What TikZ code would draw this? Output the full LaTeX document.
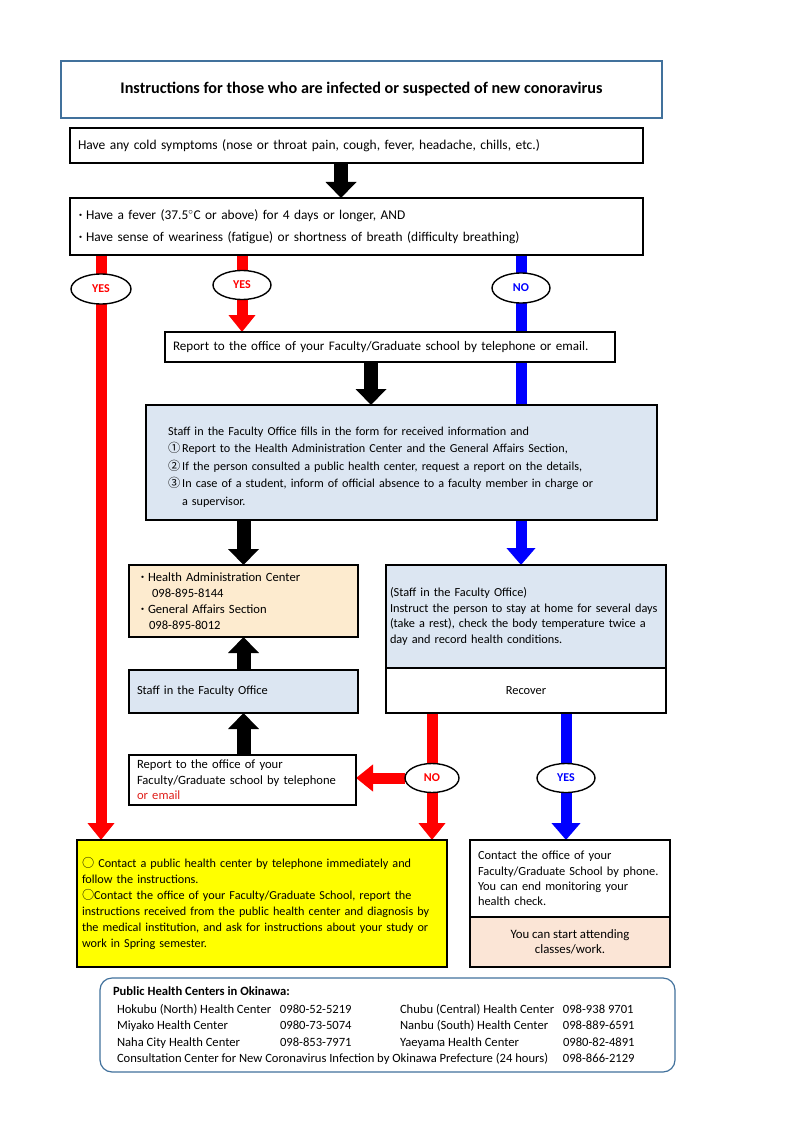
\documentclass[tikz,border=0pt]{standalone}
\usepackage{fontspec}
\setmainfont{Carlito}
\newfontfamily\cjk{Noto Sans CJK JP}
\usepackage{array}
\usetikzlibrary{arrows.meta, shapes.geometric, backgrounds}
\definecolor{frameBlue}{HTML}{41719C}
\definecolor{paleBlue}{HTML}{DCE6F2}
\definecolor{paleOrange}{HTML}{FDEBCF}
\definecolor{palePink}{HTML}{FBE5D6}
\definecolor{flowRed}{HTML}{FF0000}
\definecolor{flowBlue}{HTML}{0000FF}
\definecolor{noteRed}{HTML}{E0201B}
\definecolor{markYellow}{HTML}{FFFF00}
\newcommand{\bul}{{\cjk ・}}
\newcommand{\sym}[1]{{\cjk #1}}

\begin{document}
\begin{tikzpicture}[x=1pt, y=-1pt,
  every node/.style={inner sep=0pt, outer sep=0pt},
  box/.style={draw, line width=1.2pt, anchor=north west, align=left, inner xsep=8pt,
              fill=white, font=\fontsize{13}{16}\selectfont},
  midbox/.style={box, align=center},
  oval/.style={ellipse, draw, line width=1.4pt, fill=white, minimum width=58pt,
               minimum height=29pt, font=\fontsize{12}{14}\selectfont\bfseries},
  blk/.style={line width=14pt, -{Triangle[width=30pt, length=16pt]}},
  redarr/.style={flowRed, line width=11pt, -{Triangle[width=26pt, length=17pt]}},
  bluearr/.style={flowBlue, line width=11pt, -{Triangle[width=28pt, length=17pt]}},
]
\useasboundingbox (0,0) rectangle (800,1131);

\node[box, align=center, draw=frameBlue, minimum width=601pt, minimum height=57pt,
      font=\fontsize{16.2}{18}\selectfont\bfseries] (title) at (61,61)
  {Instructions for those who are infected or suspected of new conoravirus};

\node[box, minimum width=573pt, minimum height=35pt, text width=557pt,
      font=\fontsize{13.5}{16}\selectfont] (cold) at (70,128)
  {Have any cold symptoms (nose or throat pain, cough, fever, headache, chills, etc.)};
\node[box, minimum width=573pt, minimum height=57pt, inner xsep=5pt, text width=563pt,
      font=\fontsize{13.4}{22}\selectfont] (fever) at (70,198)
  {{\fontsize{11}{22}\selectfont\bul}Have a fever (37.5$^{\circ}$C or above) for 4 days or longer, AND\\
   {\fontsize{11}{22}\selectfont\bul}Have sense of weariness (fatigue) or shortness of breath (difficulty breathing)};

\node[box, minimum width=450pt, minimum height=30pt, text width=434pt,
      font=\fontsize{13.1}{16}\selectfont] (report) at (165,332)
  {Report to the office of your Faculty/Graduate school by telephone or email.};

\node[box, fill=paleBlue, minimum width=511pt, minimum height=115pt, inner xsep=22pt,
      text width=467pt, font=\fontsize{12.2}{17.5}\selectfont] (staff) at (146,405)
  {\rule{0pt}{17pt}Staff in the Faculty Office fills in the form for received information and\\
   \sym{①}\,Report to the Health Administration Center and the General Affairs Section,\\
   \sym{②}\,If the person consulted a public health center, request a report on the details,\\
   \sym{③}\,In case of a student, inform of official absence to a faculty member in charge or\\
   \hspace*{14pt}a supervisor.};

\node[box, fill=paleOrange, minimum width=229pt, minimum height=72pt, text width=213pt,
      font=\fontsize{12.6}{16}\selectfont] (admin) at (129,565)
  {{\fontsize{11}{16}\selectfont\bul}Health Administration Center\\
   \hspace*{15pt}098-895-8144\\
   {\fontsize{11}{16}\selectfont\bul}General Affairs Section\\
   \hspace*{12pt}098-895-8012};
\node[box, fill=paleBlue, minimum width=280pt, minimum height=103pt, inner xsep=4pt,
      text width=272pt, font=\fontsize{12.3}{15.5}\selectfont] (home) at (386,565)
  {(Staff in the Faculty Office)\\
   Instruct the person to stay at home for several days\\
   (take a rest), check the body temperature twice a\\
   day and record health conditions.};
\node[midbox, minimum width=280pt, minimum height=45pt, font=\fontsize{12.4}{15}\selectfont] (recover) at (386,668) {Recover};

\node[box, fill=paleBlue, minimum width=229pt, minimum height=43pt, text width=213pt,
      font=\fontsize{12.4}{15}\selectfont] (office) at (129,670)
  {Staff in the Faculty Office};
\node[box, minimum width=227pt, minimum height=50pt, text width=211pt,
      font=\fontsize{12.6}{15.5}\selectfont] (rep2) at (129,755)
  {Report to the office of your\\
   Faculty/Graduate school by telephone\\
   \textcolor{noteRed}{or email}};

\node[box, fill=markYellow, minimum width=370pt, minimum height=127pt, inner xsep=5pt,
      text width=360pt, font=\fontsize{12.2}{16}\selectfont] (yellow) at (77,840)
  {\sym{○} Contact a public health center by telephone immediately and\\
   follow the instructions.\\
   \sym{○}Contact the office of your Faculty/Graduate School, report the\\
   instructions received from the public health center and diagnosis by\\
   the medical institution, and ask for instructions about your study or\\
   work in Spring semester.};
\node[box, minimum width=200pt, minimum height=77pt, text width=184pt,
      font=\fontsize{12.4}{15.3}\selectfont] (contact) at (470,840)
  {Contact the office of your\\
   Faculty/Graduate School by phone.\\
   You can end monitoring your\\
   health check.};
\node[midbox, fill=palePink, minimum width=200pt, minimum height=50pt,
      font=\fontsize{12.8}{15}\selectfont] (start) at (470,917)
  {You can start attending\\ classes/work.};

\node[box, draw=frameBlue, rounded corners=12pt, minimum width=575pt, minimum height=94pt] (phc) at (100,978) {};
\node[anchor=north west, align=left, font=\fontsize{12.6}{16.5}\selectfont] (phclist) at (117,983.5)
  {\setlength{\tabcolsep}{0pt}%
   \begin{tabular}{@{}p{163pt}p{120pt}p{163pt}l@{}}
   \multicolumn{4}{@{}l}{\hspace*{-4pt}\textbf{Public Health Centers in Okinawa:}}\\[1.5pt]
   Hokubu (North) Health Center & 0980-52-5219 & Chubu (Central) Health Center & 098-938 9701\\
   Miyako Health Center & 0980-73-5074 & Nanbu (South) Health Center & 098-889-6591\\
   Naha City Health Center & 098-853-7971 & Yaeyama Health Center & 0980-82-4891\\
   \multicolumn{3}{@{}l}{Consultation Center for New Coronavirus Infection by Okinawa Prefecture (24 hours)} & 098-866-2129
   \end{tabular}};

% decision ovals
\node[oval, minimum width=60pt, minimum height=30pt, text=flowRed] (yesA) at (101,289) {YES};
\node[oval, text=flowRed] (yesB) at (242,285) {YES};
\node[oval, minimum height=30pt, text=flowBlue] (noA) at (521,288) {NO};
\node[oval, minimum width=54pt, text=flowRed] (noB) at (432,778) {NO};
\node[oval, text=flowBlue] (yesC) at (566,778) {YES};

\coordinate (colA) at (341,0);
\coordinate (colB) at (371,0);

\begin{scope}[on background layer]
\draw[blk] (cold.south -| colA) -- (fever.north -| colA);
\draw[blk] (report.south -| colB) -- (staff.north -| colB);
\draw[blk] (staff.south -| admin) -- (admin.north);
\draw[blk] (office.north) -- (admin.south);
\draw[blk] (rep2.north -| office) -- (office.south);
\draw[redarr] (fever.south -| yesA) -- (yellow.north -| yesA);
\draw[redarr] (fever.south -| yesB) -- (report.north -| yesB);
\draw[bluearr] (fever.south -| noA) -- (home.north -| noA);
\draw[redarr] (recover.south -| noB) -- (yellow.north -| noB);
\draw[bluearr] (recover.south -| yesC) -- (contact.north -| yesC);
\draw[redarr] (noB.west) -- (rep2.east |- noB);
\end{scope}
\end{tikzpicture}
\end{document}
